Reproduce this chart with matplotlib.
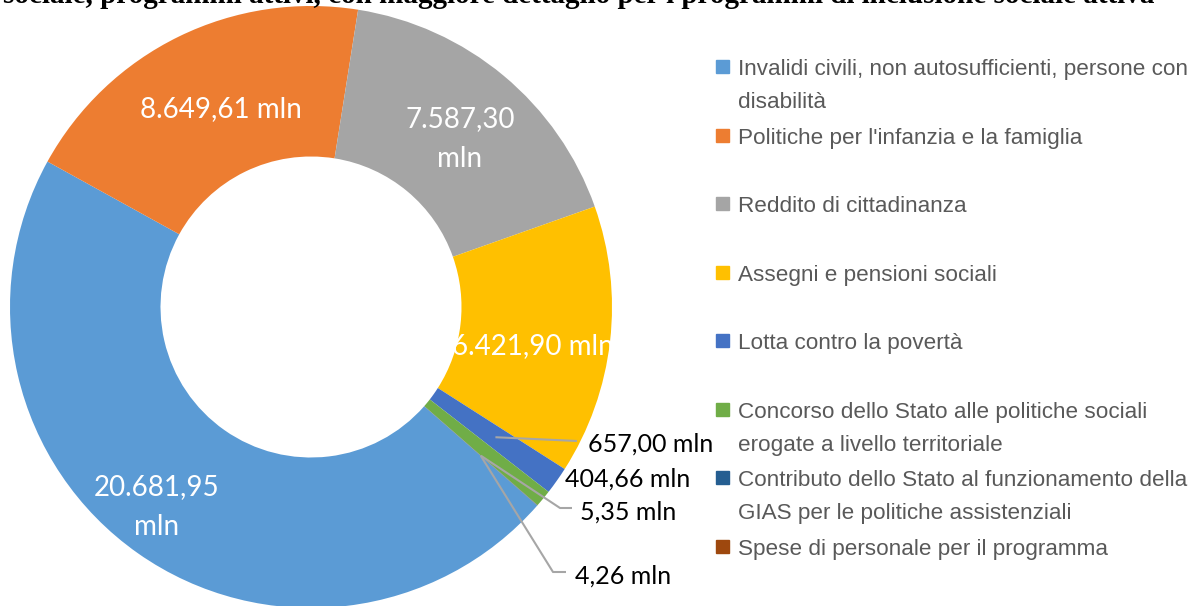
import textwrap
import matplotlib
matplotlib.use("Agg")
import matplotlib.pyplot as plt
from matplotlib.patches import Rectangle
import numpy as np

# ---------------- data ----------------
categories = [
    "Invalidi civili, non autosufficienti, persone con disabilità",
    "Politiche per l'infanzia e la famiglia",
    "Reddito di cittadinanza",
    "Assegni e pensioni sociali",
    "Lotta contro la povertà",
    "Concorso dello Stato alle politiche sociali erogate a livello territoriale",
    "Contributo dello Stato al funzionamento della GIAS per le politiche assistenziali",
    "Spese di personale per il programma",
]
values = [20681.95, 8649.61, 7587.30, 6421.90, 657.00, 404.66, 5.35, 4.26]
value_labels = ["20.681,95\nmln", "8.649,61 mln", "7.587,30\nmln", "6.421,90 mln",
                "657,00 mln", "404,66 mln", "5,35 mln", "4,26 mln"]
colors = ["#5B9BD5", "#ED7D31", "#A5A5A5", "#FFC000",
          "#4472C4", "#70AD47", "#255E91", "#9E480E"]
title_text = ("sociale, programmi attivi, con maggiore dettaglio per i programmi "
              "di inclusione sociale attiva")

# ---------------- layout ----------------
W, H = 1203, 606
fig = plt.figure(figsize=(W / 100, H / 100), dpi=100)
cx, cy, R = 311, 307, 301           # donut centre / radius in pixels (from top-left)
ax = fig.add_axes([(cx - R) / W, (H - cy - R) / H, 2 * R / W, 2 * R / H])

wedges, _ = ax.pie(values, colors=colors, startangle=318.75, counterclock=False,
                   radius=1.0, wedgeprops=dict(width=0.5, edgecolor="none"))
ax.set_xlim(-1, 1)
ax.set_ylim(-1, 1)
ax.set_aspect("equal")
ax.axis("off")


def px2d(x, y):
    return (x - cx) / R, (cy - y) / R


lab_font = ["Lato", "DejaVu Sans"]
# inside (white) labels: (centre x px, baseline y px of first line)
inside_pos = {0: (157, 495), 1: (221, 117), 2: (460, 127), 3: (533, 354)}
for i, (x, y) in inside_pos.items():
    lines = value_labels[i].split("\n")
    for k, line in enumerate(lines):
        dx, dy = px2d(x, y + 40 * k)
        ax.text(dx, dy, line, color="white", fontsize=20, family=lab_font,
                ha="center", va="baseline")

# outside (black) labels: (left x px, baseline y px)
outside_pos = {4: (588, 452), 5: (565, 487), 6: (580, 520), 7: (575, 584)}
for i, (x, y) in outside_pos.items():
    dx, dy = px2d(x, y)
    ax.text(dx, dy, value_labels[i], color="black", fontsize=18, family=lab_font,
            ha="left", va="baseline")

# leader lines: from mid of wedge (r=0.75) through given pixel points
leader_pts = {4: [(577, 441)], 6: [(560, 508), (572, 508)], 7: [(553, 572), (566, 572)]}
for i, pts in leader_pts.items():
    w = wedges[i]
    mid = np.deg2rad((w.theta1 + w.theta2) / 2)
    xs = [0.75 * np.cos(mid)] + [px2d(*p)[0] for p in pts]
    ys = [0.75 * np.sin(mid)] + [px2d(*p)[1] for p in pts]
    ax.plot(xs, ys, color="#A6A6A6", lw=1.5, solid_capstyle="butt")

# ---------------- legend (manual, Excel-like) ----------------
leg_font = ["Liberation Sans", "DejaVu Sans"]
for i, name in enumerate(categories):
    base = 75 + i * 68.57
    fig.patches.append(Rectangle((716 / W, 1 - (base - 2) / H), 13 / W, 13 / H,
                                 transform=fig.transFigure, color=colors[i],
                                 figure=fig))
    for k, line in enumerate(textwrap.wrap(name, width=49)):
        fig.text(738 / W, 1 - (base + 33 * k) / H, line, color="#595959",
                 fontsize=16.2, family=leg_font, ha="left", va="baseline")

# ---------------- clipped title ----------------
fig.text(3 / W, 1 - 3 / H, title_text, fontsize=21, fontweight="bold",
         family=["Liberation Serif", "DejaVu Serif"], ha="left", va="baseline",
         color="black")

fig.savefig("out.png", dpi=100)
